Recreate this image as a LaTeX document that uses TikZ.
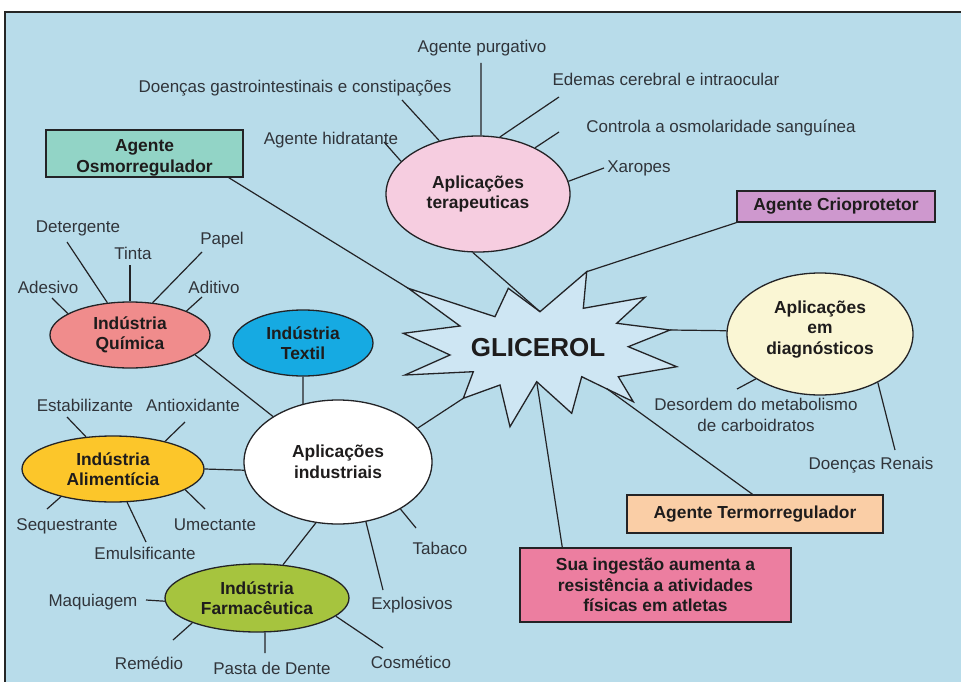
\documentclass[tikz,border=0pt]{standalone}
\usepackage{fontspec}
\setmainfont{Liberation Sans}
\usetikzlibrary{shapes.geometric}
\definecolor{bgblue}{RGB}{184,220,234}
\definecolor{starfill}{RGB}{206,230,243}
\definecolor{edge}{RGB}{35,35,38}
\definecolor{labcol}{RGB}{48,52,58}
\definecolor{txt}{RGB}{30,28,28}
\definecolor{terapc}{RGB}{246,205,224}
\definecolor{diagc}{RGB}{250,246,212}
\definecolor{quimc}{RGB}{240,140,140}
\definecolor{textilc}{RGB}{22,170,226}
\definecolor{alimc}{RGB}{252,198,42}
\definecolor{farmc}{RGB}{166,196,62}
\definecolor{osmoc}{RGB}{146,212,198}
\definecolor{crioc}{RGB}{206,152,206}
\definecolor{termoc}{RGB}{250,206,166}
\definecolor{ingc}{RGB}{236,126,160}
\begin{document}
\begin{tikzpicture}[x=1pt,y=-1pt,
  lab/.style={inner sep=0pt, text=labcol, font=\fontsize{17}{20.5}\selectfont, text height=12pt, text depth=0pt},
  mlab/.style={inner sep=0pt, text=labcol, font=\fontsize{17}{20.5}\selectfont, align=center},
  ell/.style={ellipse, draw=edge, line width=1.3pt, inner sep=0pt, text=txt, font=\bfseries\fontsize{17.4}{20.5}\selectfont, align=center},
  boxn/.style={rectangle, draw=edge, line width=1.3pt, inner sep=0pt, text=txt, font=\bfseries\fontsize{17.4}{20.7}\selectfont, align=center},
  con/.style={draw=edge, line width=1.2pt}
]
\useasboundingbox (0,0) rectangle (961,682);
\fill[white] (0,0) rectangle (961,682);
\fill[bgblue] (5,12) rectangle (961,682);
\draw[line width=2pt, black!85] (961,12) -- (5,12) -- (5,682);

% star vertices
\coordinate (s1) at (408.3,288.3);
\coordinate (s2) at (495,316.7);
\coordinate (s3) at (508.3,288.3);
\coordinate (s4) at (540,311.7);
\coordinate (s5) at (586.7,271.7);
\coordinate (s6) at (583.3,308.3);
\coordinate (s7) at (645,297.3);
\coordinate (s8) at (616.7,323.3);
\coordinate (s9) at (670,330);
\coordinate (s10) at (628.3,346.7);
\coordinate (s11) at (676.7,366.7);
\coordinate (s12) at (618.3,376.7);
\coordinate (s13) at (633.3,401.7);
\coordinate (s14) at (581.7,376.7);
\coordinate (s15) at (571.7,413.3);
\coordinate (s16) at (536.7,381.7);
\coordinate (s17) at (510,426.7);
\coordinate (s18) at (500,385);
\coordinate (s19) at (463.3,398.3);
\coordinate (s20) at (473.3,371.7);
\coordinate (s21) at (405,375);
\coordinate (s22) at (450,355);
\coordinate (s23) at (403.3,333.3);
\coordinate (s24) at (460,326);
\coordinate (sT) at (606.7,388.6);

\draw[fill=starfill, draw=edge, line width=1.3pt] (s1) -- (s2) -- (s3) -- (s4) -- (s5) -- (s6) -- (s7) -- (s8) -- (s9) -- (s10) -- (s11) -- (s12) -- (s13) -- (s14) -- (s15) -- (s16) -- (s17) -- (s18) -- (s19) -- (s20) -- (s21) -- (s22) -- (s23) -- (s24) -- cycle;
\node[inner sep=0pt, text=txt, font=\bfseries\fontsize{26}{30}\selectfont, text height=18.7pt, text depth=0pt] (glic) at (538,347) {GLICEROL};

% main nodes
\node[ell, fill=terapc, minimum width=184pt, minimum height=116pt] (ter) at (478,194) {Aplicações\\terapeuticas};
\node[ell, fill=diagc, minimum width=186pt, minimum height=122pt] (diag) at (820,334) {Aplicações\\em\\diagnósticos\rule[-13pt]{0pt}{0pt}};
\node[ell, fill=white, minimum width=188pt, minimum height=124pt] (ind) at (338,462) {Aplicações\\industriais};
\node[ell, fill=quimc, minimum width=160pt, minimum height=66pt] (quim) at (130,335) {Indústria\\Química};
\node[ell, fill=textilc, minimum width=140pt, minimum height=66pt] (textil) at (303,343) {Indústria\\Textil};
\node[ell, fill=alimc, minimum width=182pt, minimum height=66pt] (alim) at (113,469) {Indústria\\Alimentícia};
\node[ell, fill=farmc, minimum width=184pt, minimum height=68pt] (farm) at (257,598) {Indústria\\Farmacêutica};

\node[boxn, fill=osmoc, minimum width=197pt, minimum height=47pt] (osmo) at (144.5,153.5) {\rule{0pt}{20pt}Agente\\Osmorregulador};
\node[boxn, fill=crioc, minimum width=198pt, minimum height=31pt] (crio) at (836,206.5) {Agente Crioprotetor};
\node[boxn, fill=termoc, minimum width=256pt, minimum height=38pt] (termo) at (755,514) {Agente Termorregulador};
\node[boxn, fill=ingc, minimum width=271pt, minimum height=74pt] (ing) at (655.5,585) {Sua ingestão aumenta a\\resistência a atividades\\físicas em atletas};

% connectors to the star
\draw[con] (osmo.-16) -- (s1);
\draw[con] (ter.265) -- (s4);
\draw[con] (s5) -- (crio.south west);
\draw[con] (s9) -- (diag.178);
\draw[con] (sT) -- (termo.97);
\draw[con] (s16) -- (ing.158);
\draw[con] (s19) -- (ind.23);

% industrial branches
\draw[con] (quim.-17) -- (ind.145);
\draw[con] (textil.south) -- (ind.121);
\draw[con] (alim.east) -- (ind.185);
\draw[con] (farm.52) -- (ind.250);

% labels
\node[lab] (purg) at (482,47) {Agente purgativo};
\node[lab] (gastro) at (295,87) {Doenças gastrointestinais e constipações};
\node[lab] (edemas) at (666,80) {Edemas cerebral e intraocular};
\node[lab] (controla) at (721,127) {Controla a osmolaridade sanguínea};
\node[lab] (xaropes) at (639,166) {Xaropes};
\node[lab] (hidrat) at (331,139) {Agente hidratante};
\node[mlab] (desordem) at (756,415) {Desordem do metabolismo\\de carboidratos};
\node[lab] (renais) at (871,463) {Doenças Renais};
\node[lab] (adesivo) at (48,287) {Adesivo};
\node[lab] (detergente) at (78,226) {Detergente};
\node[lab] (tinta) at (133,253) {Tinta};
\node[lab] (papel) at (222,238) {Papel};
\node[lab] (aditivo) at (214,287) {Aditivo};
\node[lab] (estab) at (85,405) {Estabilizante};
\node[lab] (antiox) at (193,405) {Antioxidante};
\node[lab] (sequest) at (67,524) {Sequestrante};
\node[lab] (emuls) at (145,553) {Emulsificante};
\node[lab] (umect) at (215,524) {Umectante};
\node[lab] (maquiagem) at (93,600) {Maquiagem};
\node[lab] (remedio) at (149,663) {Remédio};
\node[lab] (pasta) at (272,668) {Pasta de Dente};
\node[lab] (cosmetico) at (411,662) {Cosmético};
\node[lab] (explosivos) at (412,603) {Explosivos};
\node[lab] (tabaco) at (440,548) {Tabaco};

% spoke free ends
\coordinate (pPurg) at (481,63);
\coordinate (pGas) at (402,100);
\coordinate (pEde) at (559,97);
\coordinate (pCon) at (559,132);
\coordinate (pXar) at (604,168);
\coordinate (pHid) at (384,142);
\coordinate (pDes) at (737,389);
\coordinate (pRen) at (895,450);
\coordinate (pAde) at (52,298);
\coordinate (pDet) at (67,242);
\coordinate (pTin) at (130,265);
\coordinate (pPap) at (202,252);
\coordinate (pAdi) at (202,297);
\coordinate (pEst) at (67,417);
\coordinate (pAnt) at (185,422);
\coordinate (pSeq) at (47,509);
\coordinate (pEmu) at (146,542);
\coordinate (pUme) at (205,509);
\coordinate (pMaq) at (146,600);
\coordinate (pRem) at (173,640);
\coordinate (pPas) at (265,653);
\coordinate (pCos) at (383,648);
\coordinate (pExp) at (383,590);
\coordinate (pTab) at (416,528);

\draw[con] (pPurg) -- (ter.87);
\draw[con] (pGas) -- (ter.126);
\draw[con] (pEde) -- (ter.69);
\draw[con] (pCon) -- (ter.39);
\draw[con] (pXar) -- (ter.8);
\draw[con] (pHid) -- (ter.157);
\draw[con] (pDes) -- (diag.215);
\draw[con] (pRen) -- (diag.-40);
\draw[con] (pAde) -- (quim.161);
\draw[con] (pDet) -- (quim.125);
\draw[con] (pTin) -- (quim.90);
\draw[con] (pPap) -- (quim.55);
\draw[con] (pAdi) -- (quim.23);
\draw[con] (pEst) -- (alim.130);
\draw[con] (pAnt) -- (alim.28);
\draw[con] (pSeq) -- (alim.208);
\draw[con] (pEmu) -- (alim.-67);
\draw[con] (pUme) -- (alim.-16);
\draw[con] (pMaq) -- (farm.182);
\draw[con] (pRem) -- (farm.201);
\draw[con] (pPas) -- (farm.-77);
\draw[con] (pCos) -- (farm.-13);
\draw[con] (pExp) -- (ind.-65);
\draw[con] (pTab) -- (ind.-37);
\end{tikzpicture}
\end{document}
